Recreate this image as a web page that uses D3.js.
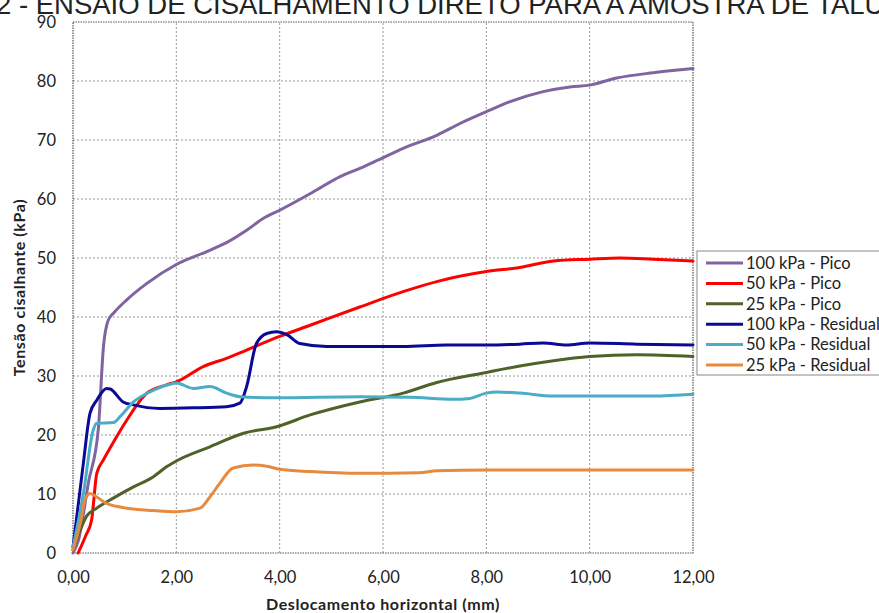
<!DOCTYPE html>
<html>
<head>
<meta charset="utf-8">
<script src="https://cdn.jsdelivr.net/npm/d3@7"></script>
<style>
  body { margin: 0; background: #fff; overflow: hidden; }
  text { font-family: Lato, "Open Sans", sans-serif; }
</style>
</head>
<body>
<div id="chart"></div>
<script>
// Series: [deslocamento (mm), tensão (kPa)]
var pico100 = [[0,0],[0.1,2],[0.3,12],[0.49,21],[0.59,35],[0.68,39.4],[0.8,40.8],[1.04,42.9],[1.43,45.7],[2,48.9],
  [2.59,51.1],[2.97,52.6],[3.36,54.7],[3.68,56.7],[4,58.1],[4.65,61.2],[5.17,63.8],[5.55,65.2],[5.9,66.6],[6.39,68.6],
  [7.04,70.8],[7.49,72.8],[8,74.8],[8.46,76.5],[9.1,78.2],[9.62,79],[10,79.3],[10.52,80.5],[11.23,81.4],[12,82.1]];
var pico50 = [[0.1,0],[0.25,3],[0.36,5.6],[0.46,13.5],[0.59,15.8],[0.81,19.2],[1.04,22.5],[1.43,27.1],[1.81,28.5],[2,29],
  [2.52,31.6],[2.97,33],[3.36,34.4],[4,36.7],[4.59,38.6],[5.55,41.7],[6.39,44.3],[7.04,46],[8,47.7],[8.65,48.4],
  [9.3,49.5],[10,49.8],[10.59,50],[11.23,49.8],[12,49.5]];
var pico25 = [[0,0.5],[0.14,3.9],[0.26,6.2],[0.46,7.6],[0.78,9.3],[1.17,11.2],[1.55,12.9],[1.81,14.6],[2,15.6],
  [2.65,18],[3.3,20.3],[3.94,21.4],[4.59,23.4],[5.55,25.6],[6.39,27.1],[7.04,28.9],[8,30.6],[8.65,31.7],[9.3,32.6],
  [10,33.3],[10.91,33.6],[12,33.3]];
var resid100 = [[0,1],[0.2,15.2],[0.33,23.7],[0.46,25.9],[0.65,27.9],[0.72,27.8],[0.97,25.6],[1.17,25.1],[1.68,24.5],
  [2.33,24.6],[2.97,24.8],[3.23,25.4],[3.36,28.2],[3.55,35.5],[3.75,37.2],[3.94,37.5],[4.14,37],[4.39,35.5],[4.91,35],
  [5.55,35],[6.39,35],[7.23,35.25],[8,35.25],[8.65,35.4],[9.1,35.6],[9.55,35.25],[10,35.6],[10.91,35.4],[12,35.25]];
var resid50 = [[0,1],[0.2,10],[0.39,20.8],[0.46,22],[0.78,22.1],[0.91,23.1],[1.17,25.6],[1.49,27.3],[1.88,28.6],[2,28.8],
  [2.33,27.9],[2.65,28.2],[2.97,27.1],[3.23,26.5],[3.94,26.3],[5.55,26.5],[6.52,26.4],[7.36,26.05],[7.68,26.2],
  [8,27.1],[8.2,27.3],[8.65,27.1],[9.3,26.6],[10,26.6],[11.23,26.6],[12,26.9]];
var resid25 = [[0,0.5],[0.14,5],[0.23,9],[0.33,10.1],[0.46,9.5],[0.65,8.4],[1.04,7.6],[1.55,7.2],[2,7],[2.46,7.6],
  [2.65,9.5],[2.84,11.8],[3.1,14.4],[3.49,14.9],[3.75,14.7],[4,14.2],[4.59,13.8],[5.55,13.5],[6.71,13.6],[7.04,13.95],
  [8,14.05],[12,14.05]];

var seriesNames = ["100 kPa - Pico", "50 kPa - Pico", "25 kPa - Pico", "100 kPa - Residual", "50 kPa - Residual", "25 kPa - Residual"];
var seriesData = [pico100, pico50, pico25, resid100, resid50, resid25];
var seriesColors = ["#8064A2", "#FF0000", "#4F6228", "#0A0A96", "#4BACC6", "#E58A3E"];

var xTicks = [0, 2, 4, 6, 8, 10, 12];
var yTicks = [0, 10, 20, 30, 40, 50, 60, 70, 80, 90];

var width = 879, height = 613;
var margin = {top: 22, right: 186, bottom: 60, left: 73};

var svg = d3.select("#chart").append("svg")
  .attr("width", width).attr("height", height);

var x = d3.scaleLinear().domain([0, 12]).range([margin.left, width - margin.right]);
var y = d3.scaleLinear().domain([0, 90]).range([height - margin.bottom, margin.top]);

// title, cut off by the top edge as in the source image
svg.append("text")
  .attr("x", -4).attr("y", 14)
  .style("font-family", "'Liberation Sans', Arial, sans-serif")
  .style("font-size", "27.5px")
  .attr("fill", "#222")
  .text("2 - ENSAIO DE CISALHAMENTO DIRETO PARA A AMOSTRA DE TALUDE");

// grid
var grid = svg.append("g").attr("stroke", "#999").attr("stroke-width", 1).attr("stroke-dasharray", "2,2");
grid.selectAll(".gx").data(xTicks.slice(1, -1)).enter().append("line")
  .attr("x1", function (d) { return x(d); }).attr("x2", function (d) { return x(d); })
  .attr("y1", y(0)).attr("y2", y(90));
grid.selectAll(".gy").data(yTicks.slice(1, -1)).enter().append("line")
  .attr("x1", x(0)).attr("x2", x(12))
  .attr("y1", function (d) { return y(d); }).attr("y2", function (d) { return y(d); });

// plot frame
svg.append("rect")
  .attr("x", x(0)).attr("y", y(90))
  .attr("width", x(12) - x(0)).attr("height", y(0) - y(90))
  .attr("fill", "none").attr("stroke", "#555").attr("stroke-width", 1.2).attr("stroke-dasharray", "1.5,1");

// axes
var fmt = function (d) { return d.toFixed(2).replace(".", ","); };
var xAxis = svg.append("g")
  .attr("transform", "translate(0," + y(0) + ")")
  .call(d3.axisBottom(x).tickValues(xTicks).tickFormat(fmt).tickSize(0).tickPadding(18));
var yAxis = svg.append("g")
  .attr("transform", "translate(" + x(0) + ",0)")
  .call(d3.axisLeft(y).tickValues(yTicks).tickSize(0).tickPadding(17));
[xAxis, yAxis].forEach(function (a) {
  a.select(".domain").remove();
  a.selectAll("text").style("font-size", "16.5px").attr("fill", "#222").style("font-family", "Lato, sans-serif");
});

// axis titles
svg.append("text")
  .attr("x", x(6)).attr("y", 610)
  .attr("text-anchor", "middle")
  .style("font-size", "16px").style("font-weight", "bold").style("letter-spacing", "0.6px").attr("fill", "#222")
  .text("Deslocamento horizontal (mm)");
svg.append("text")
  .attr("transform", "translate(25," + y(45) + ") rotate(-90)")
  .attr("text-anchor", "middle")
  .style("font-size", "16px").style("font-weight", "bold").style("letter-spacing", "0.6px").attr("fill", "#222")
  .text("Tensão cisalhante (kPa)");

// curves
var line = d3.line()
  .x(function (d) { return x(d[0]); })
  .y(function (d) { return y(d[1]); })
  .curve(d3.curveMonotoneX);

svg.append("g").selectAll("path")
  .data(seriesData).enter().append("path")
  .attr("d", line)
  .attr("fill", "none")
  .attr("stroke", function (d, i) { return seriesColors[i]; })
  .attr("stroke-width", 3)
  .attr("stroke-linejoin", "round")
  .attr("stroke-linecap", "round");

// legend
var legend = svg.append("g").attr("transform", "translate(697,251)");
legend.append("rect")
  .attr("width", 190).attr("height", 124)
  .attr("fill", "#fff").attr("stroke", "#888").attr("stroke-width", 1);
var item = legend.selectAll(".item").data(seriesNames).enter().append("g")
  .attr("transform", function (d, i) { return "translate(0," + (12 + i * 20.4) + ")"; });
item.append("line")
  .attr("x1", 9).attr("x2", 46)
  .attr("stroke", function (d, i) { return seriesColors[i]; })
  .attr("stroke-width", 3);
item.append("text")
  .attr("x", 49).attr("dy", "0.35em")
  .style("font-size", "16.5px").attr("fill", "#222")
  .text(function (d) { return d; });
</script>
</body>
</html>
